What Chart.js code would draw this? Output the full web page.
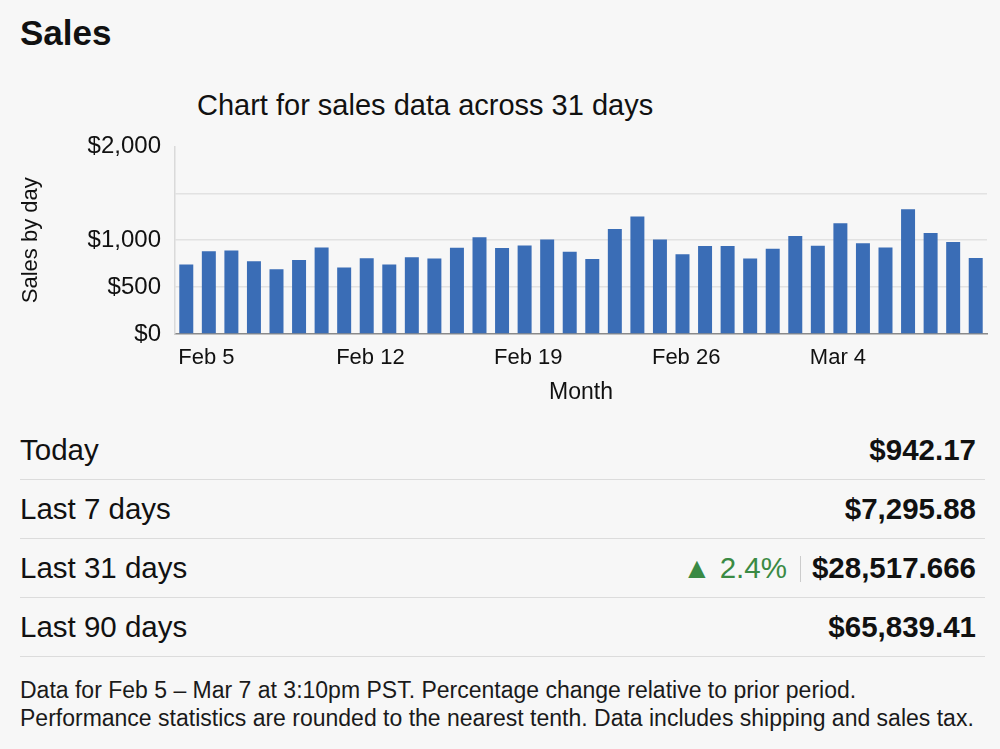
<!DOCTYPE html>
<html>
<head>
<meta charset="utf-8">
<script src="https://cdn.jsdelivr.net/npm/chart.js@4"></script>
<style>
  body { margin: 0; background: #f7f7f7; font-family: "Liberation Sans", Arial, sans-serif; color: #111; }
  #page { position: relative; width: 1000px; height: 749px; overflow: hidden; }
  h1 { position: absolute; left: 20px; top: 13px; margin: 0; font-size: 35px; font-weight: bold; }
  .ctitle { position: absolute; left: 197px; top: 89px; font-size: 29px; }
  #wrap { position: absolute; left: 0; top: 118px; width: 1000px; height: 288px; }
  .row { position: absolute; left: 20px; width: 965px; height: 58px; border-bottom: 1px solid #dcdcdc;
         display: flex; align-items: center; justify-content: space-between; font-size: 29.5px; }
  .row .val { font-weight: bold; margin-right: 9px; }
  .up { color: #3a8a44; font-weight: normal; }
  .sep { display: inline-block; width: 1px; height: 26px; background: #ccc; margin: 0 11px 0 13px; vertical-align: -4px; }
  .foot { position: absolute; left: 20px; top: 676px; font-size: 23px; line-height: 28px; color: #1a1a1a; white-space: nowrap; }
</style>
</head>
<body>
<div id="page">
  <h1>Sales</h1>
  <div class="ctitle">Chart for sales data across 31 days</div>
  <div id="wrap"><canvas id="myChart"></canvas></div>
  <div class="row" style="top:421px"><span>Today</span><span class="val">$942.17</span></div>
  <div class="row" style="top:480px"><span>Last 7 days</span><span class="val">$7,295.88</span></div>
  <div class="row" style="top:539px"><span>Last 31 days</span><span class="val"><span class="up">&#9650; 2.4%</span><span class="sep"></span>$28,517.666</span></div>
  <div class="row" style="top:598px"><span>Last 90 days</span><span class="val">$65,839.41</span></div>
  <div class="foot">Data for Feb 5 – Mar 7 at 3:10pm PST. Percentage change relative to prior period.<br>Performance statistics are rounded to the nearest tenth. Data includes shipping and sales tax.</div>
</div>
<script>
const days = [
  "Feb 5", "Feb 6", "Feb 7", "Feb 8", "Feb 9", "Feb 10", "Feb 11", "Feb 12",
  "Feb 13", "Feb 14", "Feb 15", "Feb 16", "Feb 17", "Feb 18", "Feb 19", "Feb 20",
  "Feb 21", "Feb 22", "Feb 23", "Feb 24", "Feb 25", "Feb 26", "Feb 27", "Feb 28",
  "Feb 29", "Mar 1", "Mar 2", "Mar 3", "Mar 4", "Mar 5", "Mar 6", "Mar 7",
  "Mar 8", "Mar 9", "Mar 10", "Mar 11",
];
const sales = [
  740, 881, 891, 776, 691, 789, 923, 709, 807, 740, 818, 804,
  919, 1032, 916, 944, 1007, 877, 800, 1119, 1253, 1007, 849, 937,
  937, 804, 909, 1046, 940, 1182, 968, 923, 1329, 1077, 982, 811,
];
const shownDays = ["Feb 5", "Feb 12", "Feb 19", "Feb 26", "Mar 4"];
const yTicks = [0, 500, 1000, 1500, 2000];
const yTickLabels = ["$0", "$500", "$1,000", "", "$2,000"];

function createChart() {
  const ctx = document.getElementById("myChart").getContext("2d");
  new Chart(ctx, {
    type: "bar",
    data: {
      labels: days,
      datasets: [
        {
          label: "Sales",
          data: sales,
          backgroundColor: "#3a6db6",
          barPercentage: 0.62,
          categoryPercentage: 1,
        },
      ],
    },
    options: {
      responsive: true,
      maintainAspectRatio: false,
      animation: false,
      layout: { padding: { left: 18, right: 13, top: 0, bottom: 0 } },
      plugins: { legend: { display: false }, tooltip: { enabled: false } },
      scales: {
        x: {
          grid: { display: false, drawTicks: false },
          border: { display: true, color: "#8a8a8a", width: 1.5 },
          ticks: {
            autoSkip: false,
            maxRotation: 0,
            align: "start",
            labelOffset: -8,
            padding: 11,
            color: "#111",
            font: { size: 22, family: "Liberation Sans" },
            callback: function (v, i) {
              const d = days[i];
              return shownDays.includes(d) ? d : "";
            },
          },
          title: {
            display: true,
            text: "Month",
            color: "#111",
            font: { size: 23, family: "Liberation Sans" },
            padding: { top: -4, bottom: 0 },
          },
        },
        y: {
          min: 0,
          max: 2000,
          afterBuildTicks: function (scale) {
            scale.ticks = yTicks.map((v) => ({ value: v }));
          },
          afterFit: function (scale) {
            scale.width = 157;
          },
          grid: {
            drawTicks: false,
            color: function (c) {
              return c.tick && (c.tick.value === 0 || c.tick.value === 2000) ? "rgba(0,0,0,0)" : "#e2e2e2";
            },
            lineWidth: 1.5,
          },
          border: { display: true, color: "#dadada", width: 1.5 },
          ticks: {
            padding: 14,
            color: "#111",
            font: { size: 24, family: "Liberation Sans" },
            callback: function (v) {
              return yTickLabels[yTicks.indexOf(v)];
            },
          },
          title: {
            display: true,
            text: "Sales by day",
            color: "#111",
            font: { size: 22, family: "Liberation Sans" },
            padding: { top: 0, bottom: 0 },
          },
        },
      },
    },
  });
}

createChart();
</script>
</body>
</html>
